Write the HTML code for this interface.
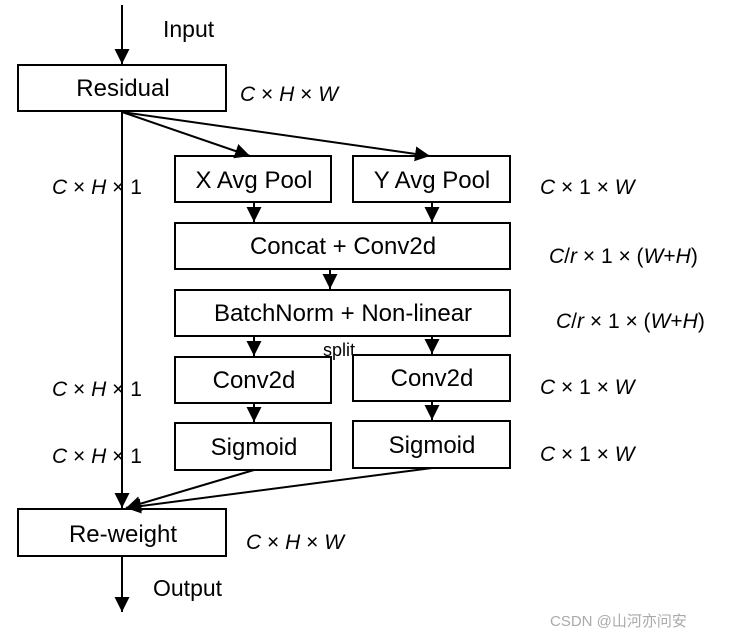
<!DOCTYPE html>
<html><head><meta charset="utf-8"><style>
body{margin:0;background:#fff;}
svg{display:block;font-family:"Liberation Sans","Noto Sans CJK SC",sans-serif;}
</style></head><body>
<svg width="729" height="638" viewBox="0 0 729 638" xmlns="http://www.w3.org/2000/svg">
<defs>
<marker id="b" viewBox="0 0 10 10" refX="10" refY="5" markerWidth="15" markerHeight="15" orient="auto" markerUnits="userSpaceOnUse"><path d="M0,0 L10,5 L0,10 z" fill="#000"/></marker></defs>
<rect width="729" height="638" fill="#fff"/>
<g fill="none" stroke="#000" stroke-width="2">
<rect x="18" y="65" width="208" height="46"/>
<rect x="175" y="156" width="156" height="46"/>
<rect x="353" y="156" width="157" height="46"/>
<rect x="175" y="223" width="335" height="46"/>
<rect x="175" y="290" width="335" height="46"/>
<rect x="175" y="357" width="156" height="46"/>
<rect x="353" y="355" width="157" height="46"/>
<rect x="175" y="423" width="156" height="47"/>
<rect x="353" y="421" width="157" height="47"/>
<rect x="18" y="509" width="208" height="47"/>
<g marker-end="url(#b)">
<line x1="122" y1="5" x2="122" y2="64"/>
<line x1="122" y1="111" x2="122" y2="508"/>
<line x1="122" y1="112" x2="250" y2="156"/>
<line x1="122" y1="112" x2="430" y2="156"/>
<line x1="254" y1="202" x2="254" y2="222"/>
<line x1="432" y1="202" x2="432" y2="222"/>
<line x1="330" y1="269" x2="330" y2="289"/>
<line x1="254" y1="336" x2="254" y2="356"/>
<line x1="432" y1="336" x2="432" y2="354"/>
<line x1="254" y1="403" x2="254" y2="422"/>
<line x1="432" y1="401" x2="432" y2="420"/>
<line x1="254" y1="470" x2="126" y2="508"/>
<line x1="432" y1="468" x2="126" y2="508"/>
<line x1="122" y1="556" x2="122" y2="612"/>
</g></g>
<g font-size="24" text-anchor="middle" fill="#000">
<text x="123" y="96">Residual</text>
<text x="254" y="188">X Avg Pool</text>
<text x="432" y="188">Y Avg Pool</text>
<text x="343" y="254">Concat + Conv2d</text>
<text x="343" y="321">BatchNorm + Non-linear</text>
<text x="254" y="388">Conv2d</text>
<text x="432" y="386">Conv2d</text>
<text x="254" y="455">Sigmoid</text>
<text x="432" y="453">Sigmoid</text>
<text x="123" y="542">Re-weight</text>
</g>
<g font-size="23">
<text x="163" y="37">Input</text>
<text x="153" y="596">Output</text>
</g>
<text x="323" y="356" font-size="18">split</text>
<g font-size="21">
<text x="240" y="101"><tspan font-style="italic">C</tspan> × <tspan font-style="italic">H</tspan> × <tspan font-style="italic">W</tspan></text>
<text x="52" y="194"><tspan font-style="italic">C</tspan> × <tspan font-style="italic">H</tspan> × 1</text>
<text x="52" y="396"><tspan font-style="italic">C</tspan> × <tspan font-style="italic">H</tspan> × 1</text>
<text x="52" y="463"><tspan font-style="italic">C</tspan> × <tspan font-style="italic">H</tspan> × 1</text>
<text x="540" y="194"><tspan font-style="italic">C</tspan> × 1 × <tspan font-style="italic">W</tspan></text>
<text x="540" y="394"><tspan font-style="italic">C</tspan> × 1 × <tspan font-style="italic">W</tspan></text>
<text x="540" y="461"><tspan font-style="italic">C</tspan> × 1 × <tspan font-style="italic">W</tspan></text>
<text x="549" y="263"><tspan font-style="italic">C</tspan>/<tspan font-style="italic">r</tspan> × 1 × (<tspan font-style="italic">W</tspan>+<tspan font-style="italic">H</tspan>)</text>
<text x="556" y="328"><tspan font-style="italic">C</tspan>/<tspan font-style="italic">r</tspan> × 1 × (<tspan font-style="italic">W</tspan>+<tspan font-style="italic">H</tspan>)</text>
<text x="246" y="549"><tspan font-style="italic">C</tspan> × <tspan font-style="italic">H</tspan> × <tspan font-style="italic">W</tspan></text>
</g>
<text x="550" y="626" font-size="15" fill="#aaa">CSDN @山河亦问安</text>
</svg>
</body></html>
